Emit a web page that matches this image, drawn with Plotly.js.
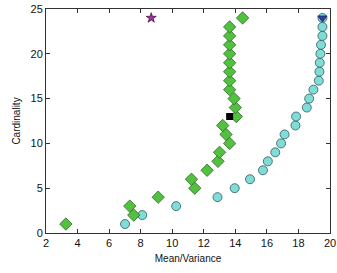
<!DOCTYPE html>
<html><head><meta charset="utf-8">
<script src="https://cdn.plot.ly/plotly-3.0.1.min.js"></script>
<style>html,body{margin:0;padding:0;background:#fff}#chart{width:337px;height:273px}</style>
</head><body><div id="chart"></div>
<script>
const cardinality = [1,2,3,4,5,6,7,8,9,10,11,12,13,14,15,16,17,18,19,20,21,22,23,24];
const greenX = [3.26,7.56,7.31,9.11,11.43,11.22,12.21,12.9,13.0,13.64,13.41,13.2,14.06,14.0,13.92,13.64,13.64,13.64,13.64,13.64,13.64,13.64,13.64,14.46];
const cyanX = [7.01,8.1,10.25,12.87,13.96,14.93,15.75,16.06,16.53,16.9,17.12,17.81,17.85,18.53,18.68,18.95,19.29,19.33,19.35,19.39,19.43,19.52,19.52,19.52];
const squareX = [13.64], squareY = [13];
const triX = [19.52], triY = [24];
const starX = [8.67], starY = [24];
const xTicks = [2,4,6,8,10,12,14,16,18,20];
const yTicks = [0,5,10,15,20,25];

const traces = [
  {x: cyanX, y: cardinality, mode:'markers', type:'scatter',
   marker:{symbol:'circle', size:9, color:'#80dcd6', line:{color:'#2d5a5a', width:0.8}}},
  {x: greenX, y: cardinality, mode:'markers', type:'scatter',
   marker:{symbol:'diamond', size:9.5, color:'#52c13f', line:{color:'#2b6a22', width:0.8}}},
  {x: squareX, y: squareY, mode:'markers', type:'scatter',
   marker:{symbol:'square', size:7, color:'#000000', line:{width:0}}},
  {x: triX, y: triY, mode:'markers', type:'scatter',
   marker:{symbol:'triangle-down', size:8, color:'#2b3f9e', line:{color:'#1a2466', width:0.8}}},
  {x: starX, y: starY, mode:'markers', type:'scatter',
   marker:{symbol:'star', size:7.5, color:'#a0309a', line:{color:'#4a1848', width:0.8}}}
];
const axisCommon = {showgrid:false, zeroline:false, showline:true, linecolor:'#333', linewidth:1,
  mirror:'ticks', ticks:'inside', ticklen:4, tickcolor:'#333', ticklabeloverflow:'allow',
  tickfont:{family:'Liberation Sans, Arial', size:11, color:'#111'}};
const layout = {
  width:337, height:273, margin:{l:46, r:7, t:9, b:40},
  paper_bgcolor:'#fff', plot_bgcolor:'#fff', showlegend:false,
  xaxis: Object.assign({}, axisCommon, {range:[2,20], tickvals:xTicks, ticktext:xTicks.map(String),
    title:{text:'Mean/Variance', font:{family:'Liberation Sans, Arial', size:10, color:'#111'}, standoff:6}}),
  yaxis: Object.assign({}, axisCommon, {range:[0,25], tickvals:yTicks, ticktext:yTicks.map(String),
    title:{text:'Cardinality', font:{family:'Liberation Sans, Arial', size:10, color:'#111'}, standoff:8}})
};
Plotly.newPlot('chart', traces, layout, {staticPlot:true, displayModeBar:false});
</script></body></html>
